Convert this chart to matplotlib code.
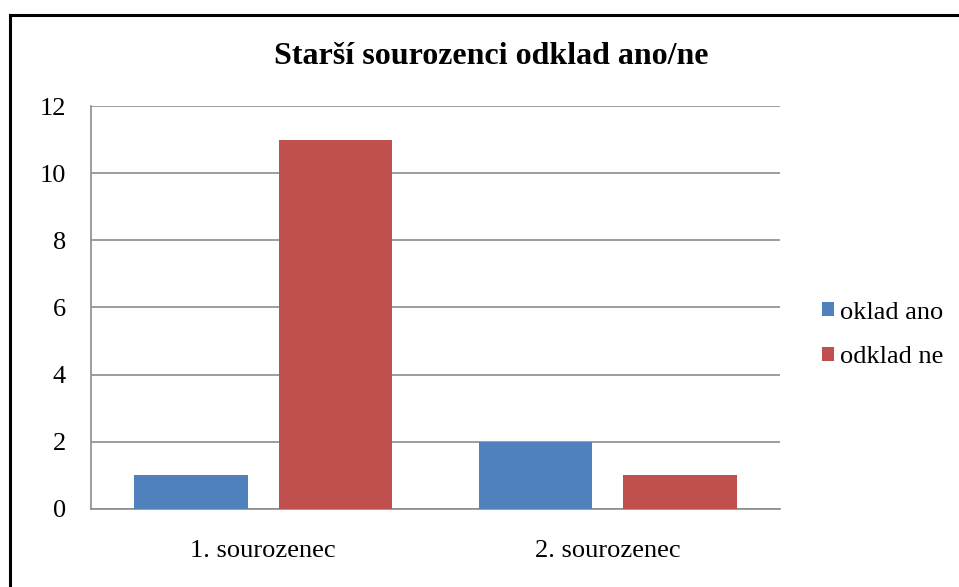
import numpy as np
import matplotlib
matplotlib.use("Agg")
import matplotlib.pyplot as plt
from matplotlib.lines import Line2D

categories = ["1. sourozenec", "2. sourozenec"]
oklad_ano = [1, 2]
odklad_ne = [11, 1]
series_names = ["oklad ano", "odklad ne"]
yticks = [0, 2, 4, 6, 8, 10, 12]

plt.rcParams["font.family"] = ["Liberation Serif", "DejaVu Serif"]

fig = plt.figure(figsize=(9.59, 5.87), dpi=100)
ax = fig.add_axes([0.0949, 0.1329, 0.8133 - 0.0949, 0.8194 - 0.1329])

x = np.arange(len(categories))
w, off = 0.33, 0.21
ax.bar(x - off, oklad_ano, w, color="#4F81BD", label=series_names[0], zorder=3)
ax.bar(x + off, odklad_ne, w, color="#C0504D", label=series_names[1], zorder=3)

ax.set_xlim(-0.5, 1.5)
ax.set_ylim(0, 12)
ax.set_yticks(yticks)
ax.set_xticks(x, categories)
ax.tick_params(axis="both", length=0, labelsize=19)
ax.tick_params(axis="y", pad=18)
ax.tick_params(axis="x", pad=22)
ax.yaxis.grid(True, color="#8c8c8c", lw=1.2, zorder=0)
for s in ("top", "right"):
    ax.spines[s].set_visible(False)
for s in ("left", "bottom"):
    ax.spines[s].set_color("#8c8c8c")
    ax.spines[s].set_linewidth(1.2)

fig.text(0.512, 0.903, "Starší sourozenci odklad ano/ne", ha="center", va="center",
         fontsize=23, fontweight="bold")

ax.legend(loc="center left", bbox_to_anchor=(822 / 959, 1 - 335 / 587),
          bbox_transform=fig.transFigure, frameon=False, borderpad=0, borderaxespad=0,
          fontsize=19, handlelength=0.45, handleheight=0.45, handletextpad=0.25,
          labelspacing=0.85)

# outer chart border (only top and left visible in the crop)
fig.add_artist(Line2D([10 / 959, 10 / 959], [0, 1 - 15 / 587], color="black", lw=2.2))
fig.add_artist(Line2D([10 / 959, 1], [1 - 15 / 587, 1 - 15 / 587], color="black", lw=2.2))

fig.savefig("out.png", dpi=100)
